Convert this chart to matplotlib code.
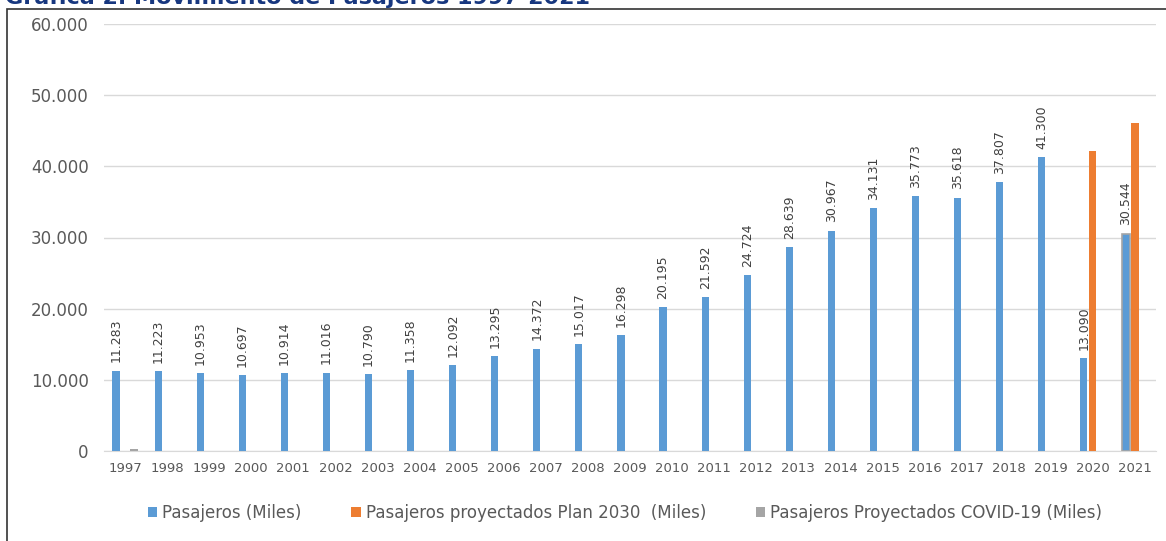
import numpy as np
import matplotlib
matplotlib.use('Agg')
import matplotlib.pyplot as plt
from matplotlib.patches import Rectangle

# Data (thousands of passengers)
years = [str(y) for y in range(1997, 2022)]
pasajeros = [11283, 11223, 10953, 10697, 10914, 11016, 10790, 11358, 12092, 13295,
             14372, 15017, 16298, 20195, 21592, 24724, 28639, 30967, 34131, 35773,
             35618, 37807, 41300, 13090, 30544]
plan_2030 = [0] * 23 + [42200, 46100]
covid = [300] + [0] * 24

labels = ['Pasajeros (Miles)', 'Pasajeros proyectados Plan 2030  (Miles)',
          'Pasajeros Proyectados COVID-19 (Miles)']
colors = ['#5B9BD5', '#ED7D31', '#A5A5A5']

plt.rcParams['font.family'] = 'DejaVu Sans'

fig = plt.figure(figsize=(11.66, 5.41), dpi=100)
ax = fig.add_axes([104 / 1166, 1 - 451 / 541, 1052 / 1166, 427 / 541])

x = np.arange(len(years))
w = 0.17
off = 0.214
b1 = ax.bar(x - off, pasajeros, w, color=colors[0], label=labels[0], zorder=3)
b2 = ax.bar(x, plan_2030, w, color=colors[1], label=labels[1], zorder=3)
b3 = ax.bar(x + off, covid, w, color=colors[2], label=labels[2], zorder=3)
# the 2021 blue bar appears with a grey outline in the reference
b1[-1].set_edgecolor('#A5A5A5')
b1[-1].set_linewidth(1.2)

for xi, v in zip(x, pasajeros):
    ax.annotate(f'{v:,}'.replace(',', '.'), (xi - off, v), xytext=(0, 6),
                textcoords='offset points', rotation=90, ha='center', va='bottom',
                fontsize=9, color='#404040', zorder=4)

ax.set_xlim(-0.5, len(years) - 0.5)
ax.set_ylim(0, 60000)
ax.set_yticks(range(0, 60001, 10000))
ax.set_yticklabels([f'{v:,}'.replace(',', '.') if v else '0' for v in range(0, 60001, 10000)])
ax.set_xticks(x)
ax.set_xticklabels(years)
ax.tick_params(axis='y', length=0, pad=11, labelsize=12, labelcolor='#595959')
ax.tick_params(axis='x', length=0, pad=8, labelsize=9.5, labelcolor='#595959')
ax.grid(axis='y', color='#D9D9D9', linewidth=1, zorder=0)
for s in ['top', 'right', 'left']:
    ax.spines[s].set_visible(False)
ax.spines['bottom'].set_color('#D9D9D9')

fig.legend(handles=[b1, b2, b3], labels=labels, loc='center',
           bbox_to_anchor=(625 / 1166, 1 - 513 / 541), ncol=3, frameon=False,
           handlelength=0.55, handleheight=0.55, handletextpad=0.3,
           columnspacing=3.0, fontsize=12, labelcolor='#595959')

# chart border and cut-off title
fig.patches.append(Rectangle((7 / 1166, -0.05), 1.1, 1 - 9 / 541 + 0.05,
                             transform=fig.transFigure, fill=False,
                             edgecolor='#333333', linewidth=1.2))
fig.text(5 / 1166, 1 - 4 / 541, 'Gráfica 2. Movimiento de Pasajeros 1997-2021',
         fontsize=16, fontweight='bold', color='#17377F', va='baseline', ha='left')

fig.savefig('out.png', dpi=100)
